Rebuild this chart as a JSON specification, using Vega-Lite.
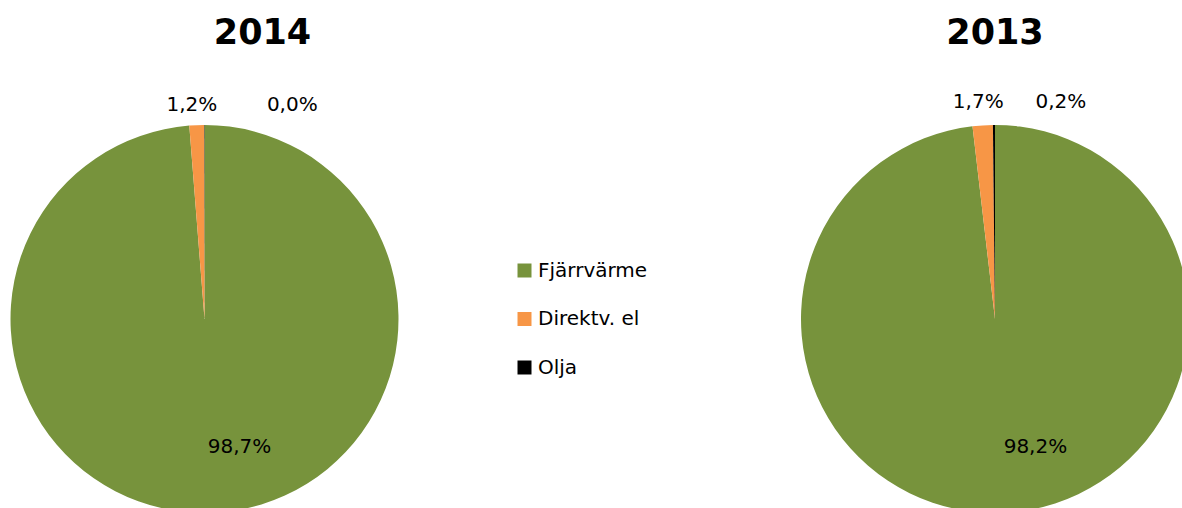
{
  "$schema": "https://vega.github.io/schema/vega-lite/v6.json",
  "padding": {"left": 0, "top": 16, "right": 0, "bottom": 0},
  "autosize": {"type": "pad"},
  "background": "white",
  "config": {
    "view": {"stroke": null},
    "font": "DejaVu Sans",
    "title": {"font": "DejaVu Sans", "fontSize": 35, "fontWeight": "bold", "color": "#000000", "offset": 10}
  },
  "datasets": {
    "d2014": [
      {"kategori": "Fjärrvärme", "andel": 98.75, "etikett": "98,7%"},
      {"kategori": "Direktv. el", "andel": 1.22, "etikett": "1,2%"},
      {"kategori": "Olja", "andel": 0.03, "etikett": "0,0%"}
    ],
    "d2013": [
      {"kategori": "Fjärrvärme", "andel": 98.15, "etikett": "98,2%"},
      {"kategori": "Direktv. el", "andel": 1.68, "etikett": "1,7%"},
      {"kategori": "Olja", "andel": 0.17, "etikett": "0,2%"}
    ],
    "kategorier": [
      {"kategori": "Fjärrvärme"},
      {"kategori": "Direktv. el"},
      {"kategori": "Olja"}
    ]
  },
  "bounds": "flush",
  "center": true,
  "spacing": 0,
  "hconcat": [
    {
      "width": 409,
      "height": 516,
      "title": {"text": "2014", "dx": 58},
      "data": {"name": "d2014"},
      "encoding": {
        "theta": {"field": "andel", "type": "quantitative", "stack": true},
        "order": {"field": "andel", "type": "quantitative", "sort": "descending"}
      },
      "layer": [
        {
          "mark": {"type": "arc", "outerRadius": 194},
          "encoding": {
            "color": {"field": "kategori", "type": "nominal", "legend": null,
              "scale": {"domain": ["Fjärrvärme", "Direktv. el", "Olja"], "range": ["#77933C", "#F79646", "#000000"]}}
          }
        },
        {
          "mark": {"type": "text", "radius": 128, "dx": 30, "fontSize": 20, "fill": "#000000"},
          "encoding": {
            "detail": {"field": "kategori", "type": "nominal"},
            "text": {"condition": {"test": "datum.kategori === 'Fjärrvärme'", "field": "etikett"}, "value": ""}
          }
        },
        {
          "mark": {"type": "text", "radius": 214, "dx": -4, "fontSize": 20, "fill": "#000000"},
          "encoding": {
            "detail": {"field": "kategori", "type": "nominal"},
            "text": {"condition": {"test": "datum.kategori === 'Direktv. el'", "field": "etikett"}, "value": ""}
          }
        },
        {
          "mark": {"type": "text", "radius": 214, "dx": 88, "fontSize": 20, "fill": "#000000"},
          "encoding": {
            "detail": {"field": "kategori", "type": "nominal"},
            "text": {"condition": {"test": "datum.kategori === 'Olja'", "field": "etikett"}, "value": ""}
          }
        }
      ]
    },
    {
      "width": 382,
      "height": 194,
      "data": {"name": "kategorier"},
      "encoding": {
        "y": {"field": "kategori", "type": "nominal", "sort": ["Fjärrvärme", "Direktv. el", "Olja"],
          "scale": {"type": "point", "padding": 1}, "axis": null}
      },
      "layer": [
        {
          "mark": {"type": "point", "shape": "square", "filled": true, "size": 196, "opacity": 1, "xOffset": -75.5},
          "encoding": {
            "color": {"field": "kategori", "type": "nominal", "legend": null,
              "scale": {"domain": ["Fjärrvärme", "Direktv. el", "Olja"], "range": ["#77933C", "#F79646", "#000000"]}}
          }
        },
        {
          "mark": {"type": "text", "align": "left", "dx": -62, "fontSize": 20, "fill": "#000000"},
          "encoding": {"text": {"field": "kategori", "type": "nominal"}}
        }
      ]
    },
    {
      "width": 408,
      "height": 516,
      "title": {"text": "2013", "dx": 0},
      "data": {"name": "d2013"},
      "encoding": {
        "theta": {"field": "andel", "type": "quantitative", "stack": true},
        "order": {"field": "andel", "type": "quantitative", "sort": "descending"}
      },
      "layer": [
        {
          "mark": {"type": "arc", "outerRadius": 194},
          "encoding": {
            "color": {"field": "kategori", "type": "nominal", "legend": null,
              "scale": {"domain": ["Fjärrvärme", "Direktv. el", "Olja"], "range": ["#77933C", "#F79646", "#000000"]}}
          }
        },
        {
          "mark": {"type": "text", "radius": 128, "dx": 33, "fontSize": 20, "fill": "#000000"},
          "encoding": {
            "detail": {"field": "kategori", "type": "nominal"},
            "text": {"condition": {"test": "datum.kategori === 'Fjärrvärme'", "field": "etikett"}, "value": ""}
          }
        },
        {
          "mark": {"type": "text", "radius": 217, "dx": -3, "fontSize": 20, "fill": "#000000"},
          "encoding": {
            "detail": {"field": "kategori", "type": "nominal"},
            "text": {"condition": {"test": "datum.kategori === 'Direktv. el'", "field": "etikett"}, "value": ""}
          }
        },
        {
          "mark": {"type": "text", "radius": 217, "dx": 67, "fontSize": 20, "fill": "#000000"},
          "encoding": {
            "detail": {"field": "kategori", "type": "nominal"},
            "text": {"condition": {"test": "datum.kategori === 'Olja'", "field": "etikett"}, "value": ""}
          }
        }
      ]
    }
  ]
}
